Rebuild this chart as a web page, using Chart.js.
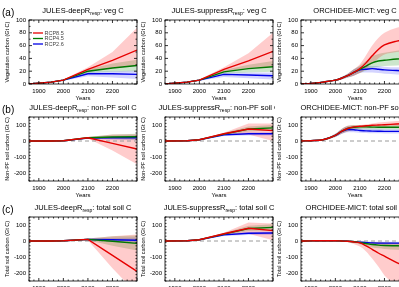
<!DOCTYPE html>
<html>
<head>
<meta charset="utf-8">
<script src="https://cdn.jsdelivr.net/npm/chart.js@4.4.1/dist/chart.umd.min.js"></script>
<style>
  html, body { margin: 0; padding: 0; background: #fff; overflow: hidden; width: 399px; height: 287px; }
  canvas { position: absolute; }
</style>
</head>
<body>
<script>
// scenario names and colours
const SCENARIOS = ["RCP8.5", "RCP4.5", "RCP2.6"];
const LINE_COLORS = ["#e60000", "#007800", "#0000e6"];
const BAND_COLORS = ["rgba(255,0,0,0.2)", "rgba(0,130,0,0.2)", "rgba(0,0,255,0.17)"];

const JULES_YEARS = [1860, 1950, 2000, 2100, 2200, 2300];
const ORCH_YEARS = [1860, 1900, 1950, 2000, 2025, 2050, 2075, 2100, 2125, 2150, 2175, 2200, 2250, 2300];
const X_TICKS = [1900, 2000, 2100, 2200];
const VEG_TICKS = [0, 20, 40, 60, 80, 100];
const SOIL_TICKS = [-200, -100, 0, 100];

// rows: RCP8.5, RCP4.5, RCP2.6
const deepVegMean = [[0, 3, 6, 23, 37, 53], [0, 3, 6, 20, 25, 29], [0, 3, 6, 16, 16, 15]];
const deepVegLow = [[0, 2, 5, 19, 25, 28], [0, 2, 5, 17, 19, 20], [0, 2, 5, 12, 10, 8]];
const deepVegHigh = [[0, 4, 7, 26, 50, 88], [0, 4, 7, 23, 32, 38], [0, 4, 7, 19, 20, 21]];

const supVegMean = [[0, 3, 6, 23, 36, 51], [0, 3, 6, 19, 24, 27], [0, 3, 6, 15, 14, 13]];
const supVegLow = [[0, 2, 5, 19, 25, 27], [0, 2, 5, 16, 18, 19], [0, 2, 5, 11, 9, 7]];
const supVegHigh = [[0, 4, 7, 26, 48, 80], [0, 4, 7, 22, 30, 36], [0, 4, 7, 18, 18, 18]];

const orchVegMean = [[0, 1, 3, 6, 9, 13, 18, 24, 33, 44, 54, 61, 67, 70], [0, 1, 3, 6, 9, 13, 18, 23, 28, 33, 36, 37, 39, 40], [0, 1, 3, 6, 9, 13, 18, 22, 23, 24, 23, 22, 21, 20]];
const orchVegLow = [[0, 1, 2, 5, 7, 10, 13, 17, 24, 32, 40, 46, 50, 52], [0, 1, 2, 5, 7, 10, 13, 17, 21, 25, 27, 28, 29, 30], [0, 1, 2, 5, 7, 10, 13, 17, 18, 18, 17, 16, 15, 14]];
const orchVegHigh = [[0, 1, 4, 7, 11, 16, 23, 31, 45, 60, 72, 80, 88, 93], [0, 1, 4, 7, 11, 16, 23, 29, 36, 43, 47, 49, 52, 54], [0, 1, 4, 7, 11, 16, 23, 27, 28, 28, 28, 27, 26, 26]];

const deepNpfMean = [[0, 0, 2, 20, -15, -50], [0, 0, 2, 20, 25, 27], [0, 0, 2, 18, 20, 20]];
const deepNpfLow = [[0, 0, 0, 15, -60, -145], [0, 0, 0, 15, 12, 10], [0, 0, 0, 14, 8, 5]];
const deepNpfHigh = [[0, 0, 4, 25, 40, 42], [0, 0, 4, 25, 40, 45], [0, 0, 4, 22, 32, 35]];

const supNpfMean = [[0, 2, 8, 45, 75, 65], [0, 2, 8, 43, 75, 82], [0, 2, 8, 38, 45, 45]];
const supNpfLow = [[0, 1, 6, 38, 40, 0], [0, 1, 6, 36, 60, 65], [0, 1, 6, 32, 35, 35]];
const supNpfHigh = [[0, 3, 10, 52, 110, 110], [0, 3, 10, 50, 90, 100], [0, 3, 10, 44, 55, 55]];

const orchNpfMean = [[0, 2, 8, 35, 60, 78, 88, 92, 95, 98, 100, 102, 106, 110], [0, 2, 8, 35, 60, 78, 86, 88, 88, 87, 86, 86, 86, 86], [0, 2, 8, 35, 58, 72, 70, 66, 63, 62, 61, 60, 60, 60]];
const orchNpfLow = [[0, 1, 5, 25, 45, 60, 72, 80, 82, 85, 86, 88, 90, 92], [0, 1, 5, 25, 45, 60, 70, 72, 72, 72, 72, 72, 72, 72], [0, 1, 5, 25, 43, 55, 55, 52, 50, 48, 48, 47, 47, 47]];
const orchNpfHigh = [[0, 3, 11, 45, 75, 95, 100, 100, 105, 110, 115, 118, 125, 130], [0, 3, 11, 45, 75, 95, 100, 100, 100, 100, 100, 100, 100, 100], [0, 3, 11, 45, 73, 90, 88, 80, 78, 76, 75, 74, 74, 74]];

const deepTotMean = [[0, 0, 2, 10, -90, -190], [0, 0, 2, 10, -2, -15], [0, 0, 2, 10, 8, 5]];
const deepTotLow = [[0, 0, 0, 5, -170, -330], [0, 0, 0, 5, -30, -60], [0, 0, 0, 5, -5, -15]];
const deepTotHigh = [[0, 0, 4, 15, 30, 40], [0, 0, 4, 15, 30, 35], [0, 0, 4, 15, 20, 22]];

const supTotMean = [[0, 2, 8, 45, 80, 65], [0, 2, 8, 43, 78, 85], [0, 2, 8, 38, 48, 50]];
const supTotLow = [[0, 1, 6, 38, 45, 5], [0, 1, 6, 36, 62, 65], [0, 1, 6, 32, 38, 38]];
const supTotHigh = [[0, 3, 10, 52, 115, 110], [0, 3, 10, 50, 95, 105], [0, 3, 10, 44, 58, 60]];

const orchTotMean = [[0, 1, 2, 2, 0, -2, -6, -12, -30, -52, -75, -95, -135, -170], [0, 1, 2, 2, 0, -2, -5, -10, -16, -22, -26, -28, -30, -32], [0, 1, 2, 2, 0, -2, -4, -8, -10, -12, -13, -13, -13, -13]];
const orchTotLow = [[0, 1, 1, 0, -3, -8, -18, -35, -65, -110, -160, -215, -280, -340], [0, 1, 1, 0, -3, -6, -12, -20, -30, -40, -46, -50, -55, -58], [0, 1, 1, 0, -2, -5, -8, -13, -17, -20, -22, -22, -22, -22]];
const orchTotHigh = [[0, 1, 3, 4, 3, 2, 0, -2, -4, -6, -8, -10, -12, -15], [0, 1, 3, 4, 3, 1, 0, -2, -4, -6, -7, -8, -9, -10], [0, 1, 3, 4, 3, 1, 0, -2, -3, -4, -4, -4, -4, -4]];

const FONT = "'Liberation Sans', Arial, sans-serif";

// layout (px)
const COL_X = [0, 136, 272];
const ROW_Y = [0, 97, 197];
const AXIS_W = 29, TOP_H = 20, PLOT_W = 108, PLOT_H = 64, BOTTOM_H = 18, RIGHT_P = 2;

const VEG = { yTitle: "Vegetation carbon (Gt C)", yMin: 0, yMax: 100, yTicks: VEG_TICKS, minor: 10, zero: false };
const NPF = { yTitle: "Non-PF soil carbon (Gt C)", yMin: -250, yMax: 150, yTicks: SOIL_TICKS, minor: 20, zero: true };
const TOT = { yTitle: "Total soil carbon (Gt C)", yMin: -250, yMax: 150, yTicks: SOIL_TICKS, minor: 20, zero: true };

const panels = [
  { row: 0, col: 0, label: "(a)", legend: true, title: [["JULES-deepR", 0], ["resp", 1], [": veg C", 0]], kind: VEG, years: JULES_YEARS, mean: deepVegMean, low: deepVegLow, high: deepVegHigh },
  { row: 0, col: 1, title: [["JULES-suppressR", 0], ["resp", 1], [": veg C", 0]], kind: VEG, years: JULES_YEARS, mean: supVegMean, low: supVegLow, high: supVegHigh },
  { row: 0, col: 2, smooth: true, title: [["ORCHIDEE-MICT: veg C", 0]], kind: VEG, years: ORCH_YEARS, mean: orchVegMean, low: orchVegLow, high: orchVegHigh },
  { row: 1, col: 0, label: "(b)", title: [["JULES-deepR", 0], ["resp", 1], [": non-PF soil C", 0]], kind: NPF, years: JULES_YEARS, mean: deepNpfMean, low: deepNpfLow, high: deepNpfHigh },
  { row: 1, col: 1, title: [["JULES-suppressR", 0], ["resp", 1], [": non-PF soil C", 0]], kind: NPF, years: JULES_YEARS, mean: supNpfMean, low: supNpfLow, high: supNpfHigh },
  { row: 1, col: 2, smooth: true, title: [["ORCHIDEE-MICT: non-PF soil C", 0]], kind: NPF, years: ORCH_YEARS, mean: orchNpfMean, low: orchNpfLow, high: orchNpfHigh },
  { row: 2, col: 0, label: "(c)", title: [["JULES-deepR", 0], ["resp", 1], [": total soil C", 0]], kind: TOT, years: JULES_YEARS, mean: deepTotMean, low: deepTotLow, high: deepTotHigh },
  { row: 2, col: 1, title: [["JULES-suppressR", 0], ["resp", 1], [": total soil C", 0]], kind: TOT, years: JULES_YEARS, mean: supTotMean, low: supTotLow, high: supTotHigh },
  { row: 2, col: 2, smooth: true, title: [["ORCHIDEE-MICT: total soil C", 0]], kind: TOT, years: ORCH_YEARS, mean: orchTotMean, low: orchTotLow, high: orchTotHigh },
];

// frame, inward ticks, title with subscript, legend, panel letter
const decor = {
  id: "decor",
  afterDatasetsDraw(chart, args, opts) {
    const p = opts.panel;
    const { ctx, chartArea: a, scales: { x, y } } = chart;
    ctx.save();
    ctx.strokeStyle = "#000";
    ctx.lineWidth = 0.8;
    ctx.strokeRect(a.left, a.top, a.right - a.left, a.bottom - a.top);
    ctx.beginPath();
    for (let v = 1860; v <= 2300; v += 20) {
      const px = x.getPixelForValue(v);
      const len = v % 100 === 0 ? 3 : 1.5;
      ctx.moveTo(px, a.bottom); ctx.lineTo(px, a.bottom - len);
      ctx.moveTo(px, a.top); ctx.lineTo(px, a.top + len);
    }
    for (let v = p.kind.yMin; v <= p.kind.yMax; v += p.kind.minor) {
      const py = y.getPixelForValue(v);
      const len = p.kind.yTicks.includes(v) ? 3 : 1.5;
      ctx.moveTo(a.left, py); ctx.lineTo(a.left + len, py);
      ctx.moveTo(a.right, py); ctx.lineTo(a.right - len, py);
    }
    ctx.stroke();

    // title
    ctx.fillStyle = "#000";
    ctx.textBaseline = "alphabetic";
    let w = 0;
    p.title.forEach(([t, sub]) => {
      ctx.font = (sub ? "5px " : "7.5px ") + FONT;
      w += ctx.measureText(t).width;
    });
    let tx = (a.left + a.right) / 2 - w / 2;
    const ty = a.top - 7;
    p.title.forEach(([t, sub]) => {
      ctx.font = (sub ? "5px " : "7.5px ") + FONT;
      ctx.fillText(t, tx, sub ? ty + 2 : ty);
      tx += ctx.measureText(t).width;
    });

    if (p.label) {
      ctx.font = "10px " + FONT;
      ctx.fillText(p.label, 2, 16);
    }

    if (p.legend) {
      ctx.font = "5.5px " + FONT;
      ctx.textBaseline = "middle";
      SCENARIOS.forEach((name, i) => {
        const ly = a.top + 13 + i * 5.5;
        ctx.strokeStyle = LINE_COLORS[i];
        ctx.lineWidth = 1.3;
        ctx.beginPath();
        ctx.moveTo(a.left + 4, ly); ctx.lineTo(a.left + 14, ly);
        ctx.stroke();
        ctx.fillStyle = "#444";
        ctx.fillText(name, a.left + 15.5, ly);
      });
    }
    ctx.restore();
  }
};

panels.forEach(p => {
  const canvas = document.createElement("canvas");
  const cw = AXIS_W + PLOT_W + RIGHT_P, ch = TOP_H + PLOT_H + BOTTOM_H;
  canvas.width = cw; canvas.height = ch;
  canvas.style.width = cw + "px"; canvas.style.height = ch + "px";
  canvas.style.left = COL_X[p.col] + "px";
  canvas.style.top = ROW_Y[p.row] + "px";
  document.body.appendChild(canvas);

  const pts = arr => p.years.map((yr, k) => ({ x: yr, y: arr[k] }));
  const datasets = [];
  SCENARIOS.forEach((name, i) => {
    datasets.push({ data: pts(p.high[i]), borderWidth: 0, backgroundColor: BAND_COLORS[i], fill: "+1", order: 10 + i, tension: p.smooth ? 0.4 : 0, cubicInterpolationMode: p.smooth ? "monotone" : "default" });
    datasets.push({ data: pts(p.low[i]), borderWidth: 0, fill: false, order: 10 + i, tension: p.smooth ? 0.4 : 0, cubicInterpolationMode: p.smooth ? "monotone" : "default" });
  });
  if (p.kind.zero) {
    datasets.push({ data: [{ x: 1860, y: 0 }, { x: 2300, y: 0 }], borderColor: "#9a9a9a", borderWidth: 1, borderDash: [4, 3], fill: false, order: 5 });
  }
  SCENARIOS.forEach((name, i) => {
    datasets.push({ label: name, data: pts(p.mean[i]), borderColor: LINE_COLORS[i], borderWidth: 1.4, fill: false, order: 1 + i, tension: p.smooth ? 0.4 : 0, cubicInterpolationMode: p.smooth ? "monotone" : "default" });
  });

  new Chart(canvas, {
    type: "line",
    data: { datasets },
    options: {
      responsive: false,
      animation: false,
      devicePixelRatio: 1,
      layout: { padding: { top: TOP_H, right: RIGHT_P, left: 0, bottom: 0 } },
      elements: { point: { radius: 0 } },
      plugins: { legend: { display: false }, tooltip: { enabled: false }, decor: { panel: p } },
      scales: {
        x: {
          type: "linear", min: 1860, max: 2300,
          grid: { display: false, drawTicks: false }, border: { display: false },
          afterBuildTicks: s => { s.ticks = X_TICKS.map(v => ({ value: v })); },
          afterFit: s => { s.height = BOTTOM_H; },
          ticks: { font: { size: 6, family: FONT }, color: "#000", padding: 4, maxRotation: 0, autoSkip: false, callback: v => String(v) },
          title: { display: true, text: "Years", font: { size: 6, family: FONT }, color: "#000", padding: { top: 0, bottom: 0 } }
        },
        y: {
          type: "linear", min: p.kind.yMin, max: p.kind.yMax,
          grid: { display: false, drawTicks: false }, border: { display: false },
          afterBuildTicks: s => { s.ticks = p.kind.yTicks.map(v => ({ value: v })); },
          afterFit: s => { s.width = AXIS_W; },
          ticks: { font: { size: 6, family: FONT }, color: "#000", padding: 3, autoSkip: false, callback: v => String(v) },
          title: { display: true, text: p.kind.yTitle, font: { size: 5.5, family: FONT }, color: "#000", padding: { top: 4, bottom: 0 } }
        }
      }
    },
    plugins: [decor]
  });
});
</script>
</body>
</html>
